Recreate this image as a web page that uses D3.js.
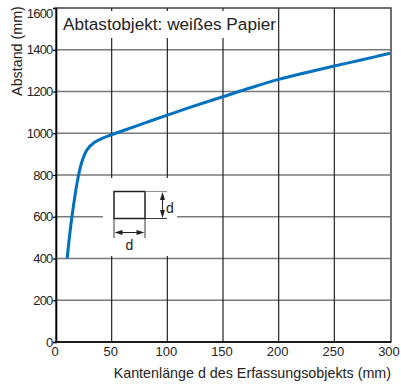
<!DOCTYPE html>
<html>
<head>
<meta charset="utf-8">
<script src="https://cdn.jsdelivr.net/npm/d3@7"></script>
<style>
  html, body { margin: 0; padding: 0; background: #fff; }
  svg { display: block; font-family: "Liberation Sans", Arial, Helvetica, sans-serif; }
</style>
</head>
<body>
<svg id="chart" width="401" height="385"></svg>
<script>
// Detection distance vs. edge length of the target (white paper)
const edgeLength = [10, 14.3, 20.3, 24, 28, 35, 42, 50, 60, 80, 100, 125, 150, 175, 200, 225, 250, 275, 300];
const distance   = [400, 600, 800, 875, 922, 958, 977, 993, 1012, 1050, 1087, 1132, 1175, 1218, 1258, 1291, 1322, 1352, 1383];

const xTicks = [0, 50, 100, 150, 200, 250, 300];
const yTicks = [0, 200, 400, 600, 800, 1000, 1200, 1400, 1600];

const titleText = "Abtastobjekt: weißes Papier";
const xTitle = "Kantenlänge d des Erfassungsobjekts (mm)";
const yTitle = "Abstand (mm)";
const dimLabel = "d";

const svg = d3.select("#chart");
const plotLeft = 56, plotRight = 390, plotTop = 8, plotBottom = 342;

const x = d3.scaleLinear().domain([0, 300]).range([plotLeft, plotRight]);
const y = d3.scaleLinear().domain([0, 1600]).range([plotBottom, plotTop]);

// Grid: horizontal lines grey, vertical lines dark
const grid = svg.append("g");
grid.selectAll("line.h").data(yTicks.filter(d => d > 0 && d < 1600)).join("line")
  .attr("class", "h")
  .attr("x1", plotLeft).attr("x2", plotRight)
  .attr("y1", d => y(d)).attr("y2", d => y(d))
  .attr("stroke", "#7a7a7a").attr("stroke-width", 1.6);
grid.selectAll("line.v").data(xTicks.filter(d => d > 0 && d < 300)).join("line")
  .attr("class", "v")
  .attr("x1", d => x(d)).attr("x2", d => x(d))
  .attr("y1", plotTop).attr("y2", plotBottom)
  .attr("stroke", "#222").attr("stroke-width", 1.2);

// White panels behind the caption and the dimension sketch
svg.append("rect").attr("x", plotLeft + 1).attr("y", 11).attr("width", 220).attr("height", 27).attr("fill", "#fff");
svg.append("rect").attr("x", 103).attr("y", 178).attr("width", 74).attr("height", 78).attr("fill", "#fff");

// Frame
svg.append("rect").attr("x", plotLeft).attr("y", plotTop).attr("width", plotRight - plotLeft + 1).attr("height", plotBottom - plotTop)
  .attr("fill", "none").attr("stroke", "#333").attr("stroke-width", 1.4);

// Axes
const yAxis = d3.axisLeft(y).tickValues(yTicks).tickSize(3).tickFormat("");
const yg = svg.append("g").attr("transform", `translate(${plotLeft},0)`).call(yAxis);
yg.select(".domain").attr("stroke", "#000").attr("stroke-width", 1.6);
yg.selectAll(".tick line").attr("stroke", "#000").attr("stroke-width", 1.2);
svg.append("line").attr("x1", plotLeft).attr("x2", plotRight + 1).attr("y1", plotBottom).attr("y2", plotBottom)
  .attr("stroke", "#000").attr("stroke-width", 1.6);

// Y tick labels
svg.append("g").selectAll("text").data(yTicks).join("text")
  .attr("x", 52.5)
  .attr("y", d => d === 1600 ? y(d) + 5.5 : y(d))
  .attr("dy", "0.36em")
  .attr("text-anchor", "end")
  .attr("font-size", 13)
  .attr("letter-spacing", -0.8)
  .attr("fill", "#222")
  .text(d => d);

// X tick labels
svg.append("g").selectAll("text").data(xTicks).join("text")
  .attr("x", d => x(d) - 1)
  .attr("y", 356)
  .attr("text-anchor", "middle")
  .attr("font-size", 13)
  .attr("fill", "#222")
  .text(d => d);

// Axis titles
svg.append("text").attr("x", 391).attr("y", 378).attr("text-anchor", "end")
  .attr("font-size", 14.3).attr("fill", "#222").text(xTitle);
svg.append("text").attr("transform", "translate(22,51) rotate(-90)").attr("text-anchor", "middle")
  .attr("font-size", 14.3).attr("fill", "#222").text(yTitle);

// Caption
svg.append("text").attr("x", 63).attr("y", 29.5).attr("font-size", 17.2).attr("fill", "#222").text(titleText);

// Dimension sketch
const sk = svg.append("g").attr("stroke", "#222").attr("fill", "none");
sk.append("rect").attr("x", 114).attr("y", 191.5).attr("width", 31).attr("height", 27).attr("stroke-width", 1.5);
sk.append("line").attr("x1", 145).attr("x2", 167).attr("y1", 191.5).attr("y2", 191.5).attr("stroke", "#888").attr("stroke-width", 0.9);
sk.append("line").attr("x1", 145).attr("x2", 167).attr("y1", 218.5).attr("y2", 218.5).attr("stroke-width", 0.9);
sk.append("line").attr("x1", 114).attr("x2", 114).attr("y1", 218.5).attr("y2", 238).attr("stroke-width", 0.9);
sk.append("line").attr("x1", 145).attr("x2", 145).attr("y1", 218.5).attr("y2", 238).attr("stroke-width", 0.9);
// arrows
sk.append("line").attr("x1", 162.5).attr("x2", 162.5).attr("y1", 194).attr("y2", 216).attr("stroke-width", 1);
sk.append("line").attr("x1", 116).attr("x2", 143).attr("y1", 232.5).attr("y2", 232.5).attr("stroke-width", 1);
const heads = svg.append("g").attr("fill", "#222");
heads.append("path").attr("d", "M162.5,192 L160,200 L165,200 Z");
heads.append("path").attr("d", "M162.5,218 L160,210 L165,210 Z");
heads.append("path").attr("d", "M114.5,232.5 L122.5,230 L122.5,235 Z");
heads.append("path").attr("d", "M144.5,232.5 L136.5,230 L136.5,235 Z");
svg.append("text").attr("x", 166).attr("y", 213).attr("font-size", 14).attr("fill", "#222").text(dimLabel);
svg.append("text").attr("x", 129.5).attr("y", 250).attr("text-anchor", "middle").attr("font-size", 14).attr("fill", "#222").text(dimLabel);

// Curve
const pts = edgeLength.map((d, i) => [d, distance[i]]);
const line = d3.line().x(d => x(d[0])).y(d => y(d[1])).curve(d3.curveCatmullRom.alpha(0.5));
svg.append("path").datum(pts).attr("d", line)
  .attr("fill", "none").attr("stroke", "#0070c0").attr("stroke-width", 3)
  .attr("stroke-linecap", "butt").attr("stroke-linejoin", "round");
</script>
</body>
</html>
